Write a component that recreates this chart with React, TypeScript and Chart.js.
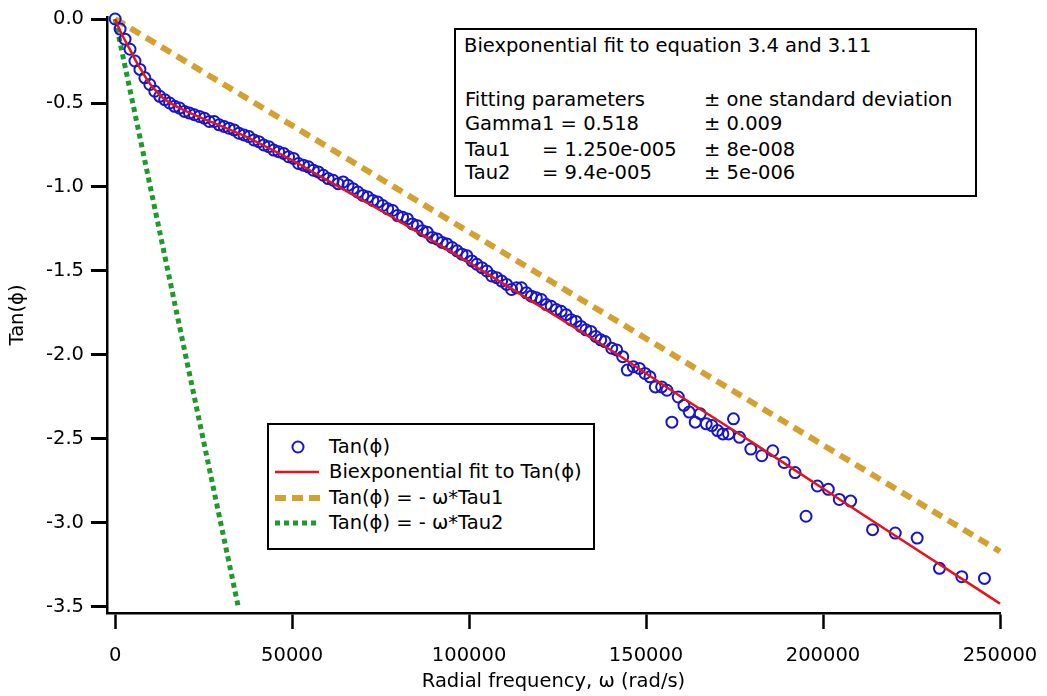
import React, { useEffect, useRef } from 'react';
import { Chart, registerables } from 'chart.js';
Chart.register(...registerables);

const FONT = "'DejaVu Sans', 'Liberation Sans', sans-serif";
const FS = 19.5;

// Measured data: Tan(phi) vs radial frequency (rad/s)
const omega = [
  0, 1400, 2800, 4200, 5600, 7000, 8400, 9800, 11200, 12600, 14000, 15400, 16800, 18200, 19600,
  21000, 22400, 23800, 25200, 26600, 28000, 29400, 30800, 32200, 33600, 35000, 36400, 37800, 39200,
  40600, 42000, 43400, 44800, 46200, 47600, 49000, 50400, 51800, 53200, 54600, 56000, 57400, 58800,
  60200, 61600, 63000, 64400, 65800, 67200, 68600, 70000, 71400, 72800, 74200, 75600, 77000, 78400,
  79800, 81200, 82600, 84000, 85400, 86800, 88200, 89600, 91000, 92400, 93800, 95200, 96600, 98000,
  99400, 100800, 102200, 103600, 105000, 106400, 107800, 109200, 110600, 112000, 113400, 114800,
  116200, 117600, 119000, 120400, 121800, 123200, 124600, 126000, 127400, 128800, 130200, 131600,
  133000, 134400, 135800, 137200, 138400, 140300, 141700, 143400, 144700, 146400, 148100, 149700,
  151100, 152600, 154400, 155900, 157300, 159100, 160700, 162200, 163900, 165300, 167000, 168600,
  170200, 171700, 173300, 174700, 176400, 179600, 182700, 185800, 189000, 192100, 195200, 198400,
  201500, 204600, 207800, 214000, 220400, 226600, 232900, 239200, 245600,
];
const tanPhi = [
  0.0, -0.06, -0.12, -0.18, -0.25, -0.3, -0.35, -0.39, -0.43, -0.46, -0.48, -0.5, -0.52, -0.53, -0.55,
  -0.56, -0.57, -0.58, -0.59, -0.61, -0.61, -0.63, -0.64, -0.65, -0.66, -0.68, -0.69, -0.7, -0.72,
  -0.73, -0.75, -0.76, -0.78, -0.79, -0.8, -0.82, -0.83, -0.86, -0.87, -0.88, -0.9, -0.91, -0.93,
  -0.95, -0.96, -0.98, -0.97, -0.99, -1.01, -1.03, -1.05, -1.06, -1.08, -1.09, -1.11, -1.13, -1.14,
  -1.17, -1.18, -1.19, -1.22, -1.23, -1.26, -1.27, -1.3, -1.31, -1.33, -1.34, -1.36, -1.38, -1.4,
  -1.41, -1.44, -1.46, -1.48, -1.5, -1.53, -1.54, -1.56, -1.58, -1.61, -1.6, -1.6,
  -1.63, -1.65, -1.66, -1.67, -1.7, -1.71, -1.73, -1.74, -1.76, -1.79, -1.8, -1.83,
  -1.85, -1.86, -1.89, -1.91, -1.92, -1.96, -1.97, -2.01, -2.09, -2.07, -2.08, -2.11,
  -2.13, -2.19, -2.19, -2.21, -2.4, -2.25, -2.3, -2.34, -2.4, -2.35, -2.41, -2.42,
  -2.45, -2.47, -2.47, -2.38, -2.49, -2.56, -2.6, -2.57, -2.64, -2.7, -2.96, -2.78,
  -2.8, -2.86, -2.87, -3.04, -3.06, -3.09, -3.27, -3.32, -3.33,
];

// Biexponential fit curve
const fitOmega = [
  0, 1000, 2000, 3000, 4000, 5000, 6000, 7000, 8000, 9000, 10000, 11000, 12000, 13000, 14000, 16000,
  18000, 20000, 24000, 28000, 33000, 38000, 44000, 50000, 57000, 65000, 80000, 100000, 120000,
  140000, 160000, 180000, 200000, 220000, 250000,
];
const fitTan = [
  0, -0.05, -0.095, -0.135, -0.175, -0.215, -0.255, -0.29, -0.325, -0.36, -0.39, -0.415, -0.44, -0.46,
  -0.478, -0.505, -0.528, -0.548, -0.585, -0.62, -0.665, -0.71, -0.775, -0.84, -0.925, -1.02, -1.2,
  -1.45, -1.71, -1.97, -2.25, -2.52, -2.795, -3.07, -3.48,
];

// Tan(phi) = -omega*Tau1 and Tan(phi) = -omega*Tau2 (end points)
const tau1Omega = [0, 250000];
const tau1Tan = [0, -3.17];
const tau2Omega = [0, 34800];
const tau2Tan = [0, -3.5];

const xTickValues = [0, 50000, 100000, 150000, 200000, 250000];
const yTickValues = [0, -0.5, -1, -1.5, -2, -2.5, -3, -3.5];

const BLUE = '#1616c8';
const RED = '#e3141c';
const ORANGE = '#d4a030';
const GREEN = '#1e9a2a';

const pts = (xs: number[], ys: number[]) => xs.map((x, i) => ({ x, y: ys[i] }));

const txt = (s: string, left: number, cy: number) => (
  <div
    style={{
      position: 'absolute',
      left,
      top: cy - 11,
      lineHeight: '22px',
      fontFamily: FONT,
      fontSize: FS,
      color: '#000',
      whiteSpace: 'nowrap',
    }}
  >
    {s}
  </div>
);

export default function App() {
  const ref = useRef<HTMLCanvasElement>(null);
  useEffect(() => {
    const chart = new Chart(ref.current as HTMLCanvasElement, {
      type: 'scatter',
      data: {
        datasets: [
          {
            label: 'Biexponential fit to Tan(ϕ)',
            data: pts(fitOmega, fitTan),
            showLine: true,
            borderColor: RED,
            borderWidth: 2.5,
            pointRadius: 0,
            cubicInterpolationMode: 'monotone',
            order: 0,
            clip: false,
          },
          {
            label: 'Tan(ϕ)',
            data: pts(omega, tanPhi),
            showLine: false,
            borderColor: BLUE,
            backgroundColor: 'rgba(0,0,0,0)',
            borderWidth: 2,
            pointRadius: 5.5,
            pointStyle: 'circle',
            order: 1,
            clip: false,
          },
          {
            label: 'Tan(ϕ) = - ω*Tau1',
            data: pts(tau1Omega, tau1Tan),
            showLine: true,
            borderColor: ORANGE,
            borderWidth: 6,
            borderDash: [11, 7],
            pointRadius: 0,
            order: 2,
            clip: false,
          },
          {
            label: 'Tan(ϕ) = - ω*Tau2',
            data: pts(tau2Omega, tau2Tan),
            showLine: true,
            borderColor: GREEN,
            borderWidth: 5,
            borderDash: [5, 4],
            pointRadius: 0,
            order: 3,
            clip: false,
          },
        ],
      },
      options: {
        animation: false,
        responsive: false,
        devicePixelRatio: 1,
        layout: { padding: { top: 17, right: 47, left: 0, bottom: 0 } },
        plugins: { legend: { display: false }, tooltip: { enabled: false } },
        scales: {
          x: {
            type: 'linear',
            position: 'bottom',
            min: -2300,
            max: 250000,
            afterFit: (s: any) => {
              s.height = 83;
              s.paddingLeft = 0;
              s.paddingRight = 0;
            },
            afterBuildTicks: (s: any) => {
              s.ticks = xTickValues.map((value) => ({ value }));
            },
            ticks: {
              autoSkip: false,
              maxRotation: 0,
              padding: 15,
              color: '#000',
              font: { family: FONT, size: FS },
              callback: (v: any) => String(v),
            },
            grid: {
              display: true,
              drawOnChartArea: false,
              drawTicks: true,
              tickLength: 16,
              tickWidth: 2.5,
              tickColor: '#000',
            },
            border: { display: true, color: '#000', width: 2.5 },
            title: {
              display: true,
              text: 'Radial frequency, ω (rad/s)',
              color: '#000',
              font: { family: FONT, size: FS },
              padding: { top: 0, bottom: 2 },
            },
          },
          y: {
            type: 'linear',
            min: -3.536,
            max: 0.012,
            afterFit: (s: any) => {
              s.width = 107;
              s.paddingTop = 0;
              s.paddingBottom = 0;
            },
            afterBuildTicks: (s: any) => {
              s.ticks = yTickValues.map((value) => ({ value }));
            },
            ticks: {
              autoSkip: false,
              padding: 7,
              color: '#000',
              font: { family: FONT, size: FS },
              callback: (v: any) => (Math.abs(v) < 1e-9 ? '0.0' : Number(v).toFixed(1)),
            },
            grid: {
              display: true,
              drawOnChartArea: false,
              drawTicks: true,
              tickLength: 16,
              tickWidth: 3,
              tickColor: '#000',
            },
            border: { display: true, color: '#000', width: 2.5 },
            title: {
              display: true,
              text: 'Tan(ϕ)',
              color: '#000',
              font: { family: FONT, size: FS },
              padding: { top: 6, bottom: 0 },
            },
          },
        },
      },
    } as any);
    return () => chart.destroy();
  }, []);

  return (
    <div style={{ position: 'absolute', left: 0, top: 0, width: 1047, height: 696, background: '#fff' }}>
      <canvas
        ref={ref}
        width={1047}
        height={696}
        style={{ position: 'absolute', left: 0, top: 0, width: 1047, height: 696 }}
      />
      {/* Fit annotation box */}
      <div
        style={{
          position: 'absolute',
          left: 454,
          top: 28,
          width: 523,
          height: 169,
          border: '2.5px solid #000',
          boxSizing: 'border-box',
          background: '#fff',
        }}
      />
      {txt('Biexponential fit to equation 3.4 and 3.11', 464, 46)}
      {txt('Fitting parameters', 465, 100)}
      {txt('± one standard deviation', 704, 100)}
      {txt('Gamma1 = 0.518', 465, 124)}
      {txt('± 0.009', 704, 124)}
      {txt('Tau1', 465, 150)}
      {txt('= 1.250e-005', 542, 150)}
      {txt('± 8e-008', 704, 150)}
      {txt('Tau2', 465, 173)}
      {txt('= 9.4e-005', 542, 173)}
      {txt('± 5e-006', 704, 173)}
      {/* Legend */}
      <div
        style={{
          position: 'absolute',
          left: 267,
          top: 423,
          width: 328,
          height: 127,
          border: '2.5px solid #000',
          boxSizing: 'border-box',
          background: '#fff',
        }}
      />
      <svg style={{ position: 'absolute', left: 0, top: 0 }} width={1047} height={696}>
        <circle cx={298} cy={447} r={5.5} fill="none" stroke={BLUE} strokeWidth={2} />
        <line x1={275} y1={472} x2={319} y2={472} stroke={RED} strokeWidth={2.5} />
        <line x1={275} y1={498} x2={320} y2={498} stroke={ORANGE} strokeWidth={6} strokeDasharray="11 6" />
        <line x1={275} y1={523} x2={318} y2={523} stroke={GREEN} strokeWidth={5} strokeDasharray="5 4" />
      </svg>
      {txt('Tan(ϕ)', 329, 447)}
      {txt('Biexponential fit to Tan(ϕ)', 329, 472)}
      {txt('Tan(ϕ) = - ω*Tau1', 329, 498)}
      {txt('Tan(ϕ) = - ω*Tau2', 329, 523)}
    </div>
  );
}
